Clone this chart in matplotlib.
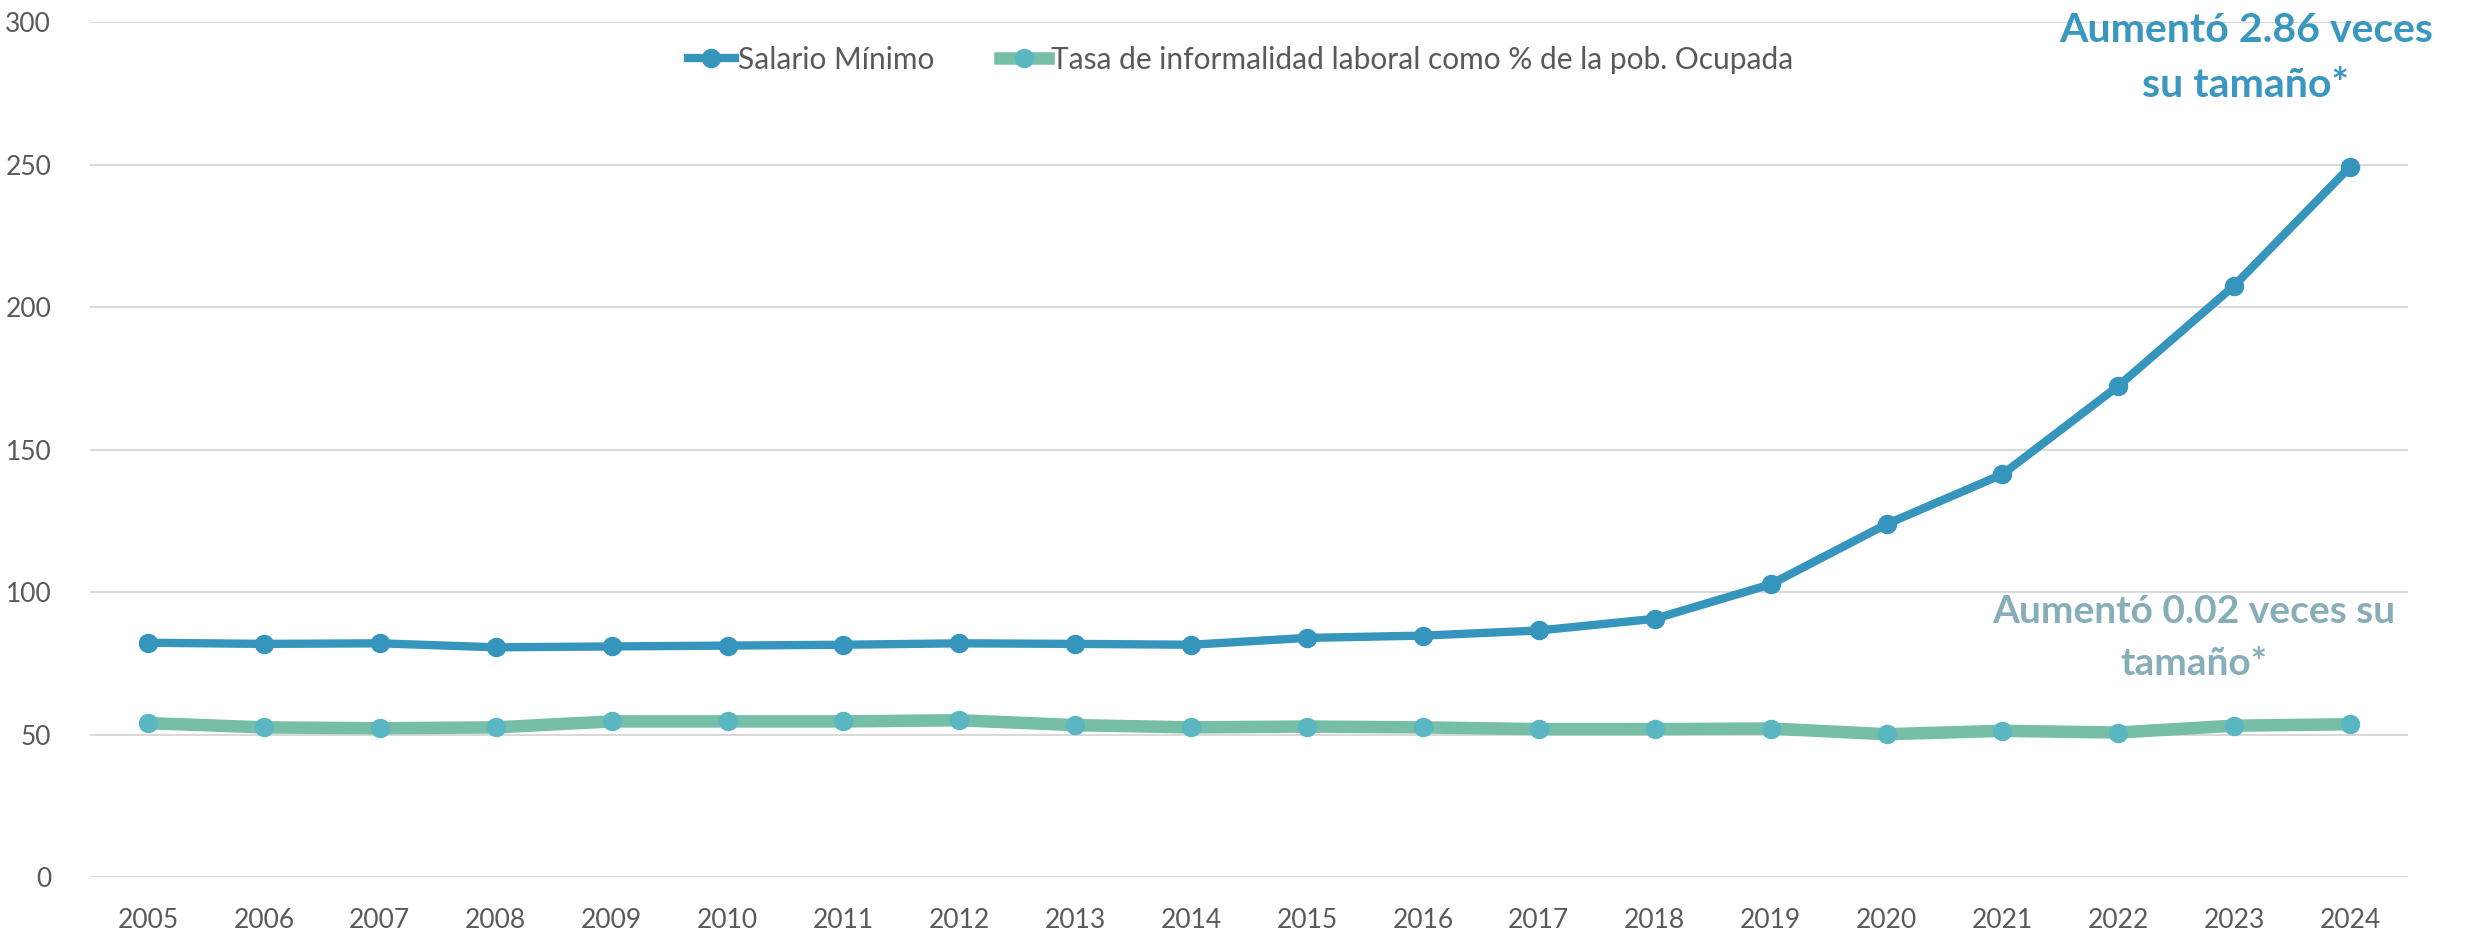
import numpy as np
import matplotlib.pyplot as plt

years = [str(y) for y in range(2005, 2025)]
salario = [82.2, 81.8, 82.0, 80.6, 80.9, 81.2, 81.5, 82.0, 81.8, 81.5,
           83.9, 84.7, 86.5, 90.6, 102.7, 123.8, 141.3, 172.3, 207.5, 249.2]
informalidad = [54.0, 52.5, 52.2, 52.5, 54.6, 54.6, 54.6, 55.0, 53.3, 52.5,
                52.8, 52.5, 51.9, 51.9, 52.1, 50.1, 51.3, 50.7, 53.1, 53.6]
y_ticks = [0, 50, 100, 150, 200, 250, 300]

FONT = "Lato"
plt.rcParams["font.family"] = [FONT, "DejaVu Sans"]

fig = plt.figure(figsize=(24.81, 9.33), dpi=100)
ax = fig.add_axes([0.0363, 0.060, 0.9343, 0.9164])

x = np.arange(len(years))
ax.plot(x, salario, color="#3595BD", lw=6, marker="o", ms=13,
        mfc="#3595BD", mec="#3595BD", label="Salario Mínimo", zorder=3)
ax.plot(x, informalidad, color="#76BEA6", lw=9, marker="o", ms=13,
        mfc="#5AB6C1", mec="#5AB6C1",
        label="Tasa de informalidad laboral como % de la pob. Ocupada", zorder=3)

ax.set_xlim(-0.5, len(years) - 0.5)
ax.set_ylim(0, 300)
ax.set_yticks(y_ticks)
ax.set_xticks(x)
ax.set_xticklabels(years)
ax.tick_params(axis="both", length=0, labelsize=19, colors="#595959")
ax.tick_params(axis="x", pad=22)
ax.tick_params(axis="y", pad=28)
ax.grid(axis="y", color="#D9D9D9", lw=1.5)
ax.set_axisbelow(True)
for s in ax.spines.values():
    s.set_visible(False)

fig.legend(loc="center", bbox_to_anchor=(0.5, 0.936), ncol=2, frameon=False,
           fontsize=21.5, labelcolor="#595959", handlelength=1.6,
           handletextpad=0.1, columnspacing=2.2)

ax.text(18.1, 287.5, "Aumentó 2.86 veces\nsu tamaño*", ha="center", va="center",
        fontsize=29.5, fontweight="bold", color="#3A97BF", linespacing=1.6)
ax.text(17.65, 84, "Aumentó 0.02 veces su\ntamaño*", ha="center", va="center",
        fontsize=28, fontweight="bold", color="#87AEB8", linespacing=1.6)

fig.savefig("out.png", dpi=100)
